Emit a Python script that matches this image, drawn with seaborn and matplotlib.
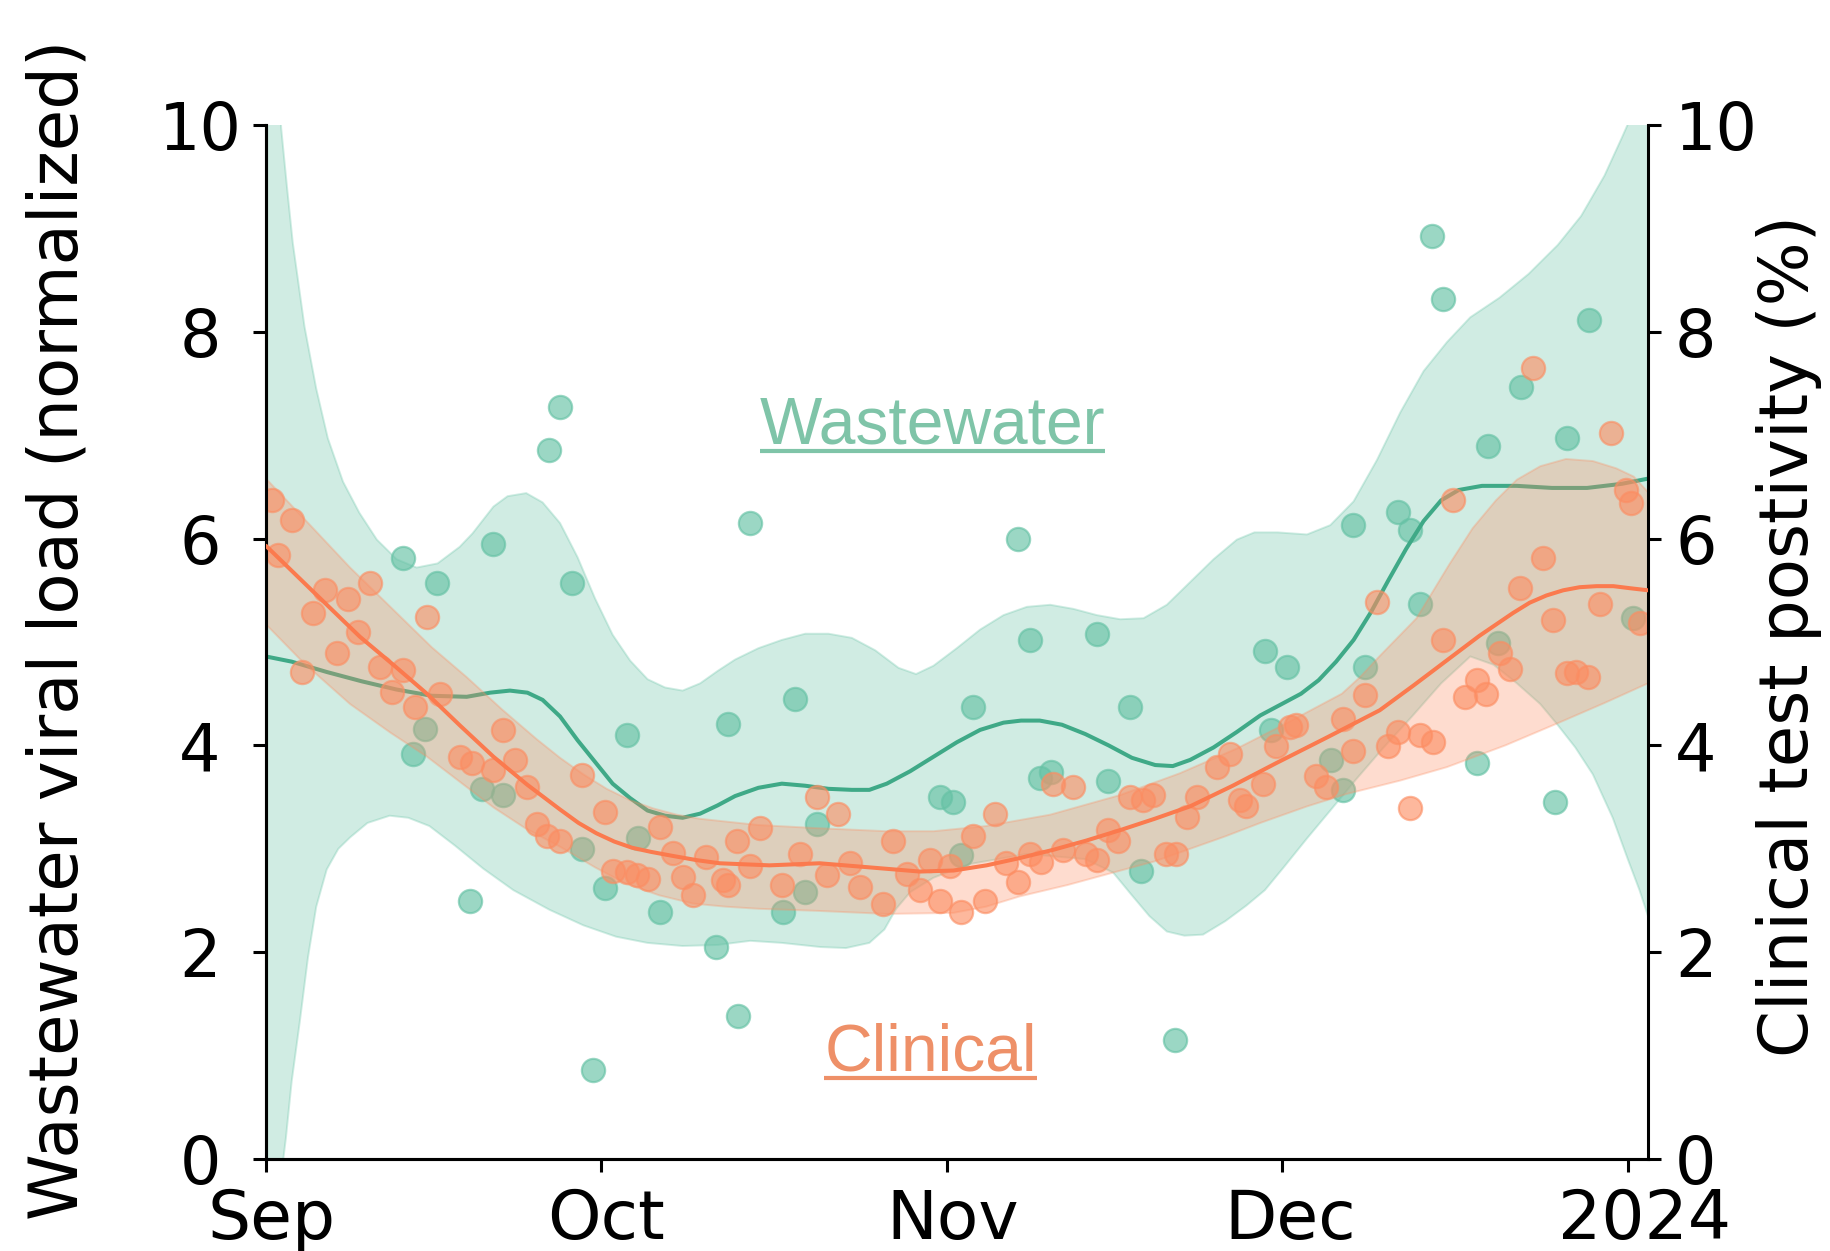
import numpy as np
import pandas as pd
import matplotlib
matplotlib.use("Agg")
import matplotlib.pyplot as plt
import matplotlib.transforms as mtransforms
from matplotlib.lines import Line2D
import seaborn as sns

START = pd.Timestamp("2023-09-01")
X_END_DAY = 123.8

# Wastewater samples: days since 1 Sep 2023 and normalized viral load
ww_day = [12.29, 13.18, 14.24, 15.28, 18.26, 19.31, 20.35, 21.24, 25.34, 26.32,
          27.37, 28.27, 29.31, 30.36, 32.30, 33.35, 35.28, 40.35, 41.40, 42.30,
          43.34, 46.33, 47.38, 48.27, 49.32, 60.36, 61.55, 62.30, 63.35, 67.37,
          68.42, 69.31, 70.36, 74.40, 75.43, 77.38, 78.42, 81.41, 89.47, 90.07,
          91.42, 95.44, 96.49, 97.38, 98.43, 101.41, 102.46, 103.36, 104.45, 105.45,
          108.44, 109.47, 110.37, 112.38, 115.45, 116.50, 118.52, 122.46]
ww_load = [5.81, 3.92, 4.16, 5.57, 2.50, 3.58, 5.95, 3.52, 6.86, 7.27,
           5.57, 3.00, 0.86, 2.62, 4.10, 3.10, 2.39, 2.05, 4.21, 1.38,
           6.15, 2.39, 4.45, 2.58, 3.24, 3.50, 3.45, 2.94, 4.37, 6.00,
           5.02, 3.68, 3.74, 5.08, 3.66, 4.37, 2.79, 1.15, 4.91, 4.15,
           4.76, 3.86, 3.57, 6.13, 4.76, 6.26, 6.08, 5.37, 8.93, 8.32,
           3.83, 6.90, 4.99, 7.47, 3.45, 6.97, 8.11, 5.23]

# Clinical test positivity (%)
cl_day = [0.50, 1.10, 2.29, 3.19, 4.23, 5.28, 6.32, 7.37, 8.26, 9.30,
          10.20, 11.25, 12.29, 13.34, 14.38, 15.58, 17.36, 18.42, 20.35, 21.24,
          22.30, 23.34, 24.24, 25.13, 26.32, 28.27, 30.36, 31.10, 32.30, 33.19,
          34.24, 35.28, 36.48, 37.37, 38.26, 39.46, 40.95, 41.40, 42.15, 43.34,
          44.24, 46.18, 47.83, 49.32, 50.21, 51.26, 52.30, 53.20, 55.28, 56.18,
          57.38, 58.57, 59.46, 60.36, 61.26, 62.30, 63.35, 64.39, 65.28, 66.33,
          67.37, 68.42, 69.46, 70.51, 71.40, 72.30, 73.50, 74.40, 75.43, 76.33,
          77.38, 78.57, 79.47, 80.66, 81.56, 82.46, 83.36, 85.15, 86.34, 87.24,
          87.83, 89.32, 90.52, 91.71, 92.31, 94.10, 94.99, 96.49, 97.38, 98.43,
          99.48, 100.52, 101.41, 102.46, 103.36, 104.55, 105.45, 106.35, 107.39, 108.44,
          109.32, 110.53, 111.41, 112.31, 113.51, 114.41, 115.31, 116.50, 117.39, 118.43,
          119.48, 120.53, 121.87, 122.32, 123.06]
cl_pos = [6.37, 5.84, 6.18, 4.71, 5.28, 5.50, 4.89, 5.42, 5.10, 5.57,
          4.76, 4.52, 4.73, 4.37, 5.24, 4.50, 3.89, 3.83, 3.76, 4.15,
          3.86, 3.60, 3.24, 3.12, 3.08, 3.71, 3.36, 2.79, 2.78, 2.75,
          2.71, 3.21, 2.96, 2.73, 2.55, 2.92, 2.70, 2.65, 3.08, 2.83,
          3.20, 2.65, 2.95, 3.50, 2.75, 3.34, 2.86, 2.63, 2.47, 3.08,
          2.76, 2.60, 2.89, 2.50, 2.83, 2.39, 3.12, 2.50, 3.34, 2.86,
          2.68, 2.95, 2.87, 3.63, 2.99, 3.60, 2.95, 2.89, 3.18, 3.08,
          3.50, 3.47, 3.52, 2.95, 2.95, 3.31, 3.50, 3.79, 3.92, 3.47,
          3.41, 3.63, 3.99, 4.18, 4.20, 3.70, 3.60, 4.26, 3.95, 4.49,
          5.39, 3.99, 4.13, 3.39, 4.10, 4.03, 5.02, 6.37, 4.47, 4.63,
          4.50, 4.89, 4.74, 5.52, 7.65, 5.81, 5.21, 4.70, 4.71, 4.66,
          5.37, 7.02, 6.47, 6.34, 5.18]

# Smoothed wastewater trend
ww_fit_day = [0, 2.30, 5.44, 8.57, 11.71, 14.84, 17.98, 20.07, 21.85, 23.42,
              24.78, 26.34, 27.91, 29.48, 31.05, 32.62, 34.18, 35.75, 37.32, 38.89,
              40.46, 42.02, 44.11, 46.21, 48.30, 50.39, 52.48, 54.05, 55.61, 57.70,
              59.79, 61.88, 63.97, 66.07, 67.64, 69.31, 71.30, 73.39, 75.48, 77.57,
              79.66, 81.23, 82.79, 84.88, 86.97, 89.07, 91.16, 92.72, 94.29, 95.86,
              97.43, 98.99, 100.56, 102.13, 103.70, 105.27, 106.84, 108.93, 112.06, 115.20,
              118.34, 121.47, 123.8]
ww_fit = [4.86, 4.81, 4.71, 4.62, 4.54, 4.48, 4.47, 4.51, 4.53, 4.51,
          4.44, 4.28, 4.05, 3.84, 3.63, 3.49, 3.37, 3.32, 3.30, 3.34,
          3.42, 3.51, 3.59, 3.63, 3.61, 3.58, 3.57, 3.57, 3.63, 3.75,
          3.89, 4.03, 4.15, 4.22, 4.24, 4.24, 4.20, 4.11, 4.00, 3.88,
          3.81, 3.80, 3.86, 3.98, 4.13, 4.29, 4.41, 4.50, 4.63, 4.81,
          5.02, 5.29, 5.60, 5.90, 6.17, 6.37, 6.47, 6.51, 6.51, 6.49,
          6.49, 6.53, 6.58]
# Wastewater uncertainty band: upper and lower edges
ww_hi_day = [0, 1.36, 1.88, 2.40, 3.45, 4.50, 5.54, 6.90, 8.36, 9.93,
             11.71, 13.49, 15.37, 17.35, 18.50, 20.38, 21.64, 23.31, 24.78, 26.34,
             27.91, 29.48, 31.05, 32.62, 34.18, 35.75, 37.32, 38.89, 40.46, 42.02,
             44.11, 46.21, 48.30, 50.39, 52.48, 54.57, 56.66, 58.23, 59.79, 61.88,
             63.97, 66.07, 68.16, 70.25, 72.34, 74.43, 76.52, 78.61, 80.70, 82.79,
             84.88, 86.97, 88.54, 90.63, 93.25, 95.34, 97.43, 99.52, 101.61, 103.70,
             105.79, 107.88, 110.50, 113.11, 115.72, 117.81, 119.90, 121.47, 123.8]
ww_hi = [13.0, 9.97, 9.40, 8.86, 8.05, 7.45, 6.97, 6.55, 6.25, 5.99,
         5.80, 5.72, 5.76, 5.92, 6.05, 6.31, 6.41, 6.44, 6.35, 6.15,
         5.82, 5.42, 5.07, 4.82, 4.64, 4.56, 4.53, 4.60, 4.72, 4.83,
         4.94, 5.02, 5.08, 5.08, 5.04, 4.92, 4.75, 4.69, 4.77, 4.94,
         5.12, 5.26, 5.34, 5.36, 5.32, 5.26, 5.22, 5.23, 5.36, 5.58,
         5.80, 5.99, 6.06, 6.06, 6.04, 6.13, 6.36, 6.76, 7.22, 7.62,
         7.90, 8.14, 8.33, 8.56, 8.84, 9.12, 9.51, 9.88, 10.45]
ww_lo_day = [0, 0.84, 1.55, 1.78, 2.30, 3.03, 3.76, 4.50, 5.44, 6.48,
             7.53, 9.09, 11.08, 12.75, 14.64, 16.94, 19.44, 22.16, 25.40, 28.43,
             31.36, 34.18, 37.32, 40.46, 43.38, 46.21, 49.66, 51.95, 54.05, 55.40,
             56.45, 57.70, 59.79, 62.93, 68.16, 73.39, 75.89, 77.57, 79.13, 80.70,
             82.27, 83.94, 85.93, 87.81, 89.48, 91.16, 93.25, 95.34, 97.64, 100.04,
             102.66, 105.27, 107.88, 109.97, 112.06, 114.15, 115.62, 117.29, 118.86, 120.64,
             121.99, 123.04, 123.8]
ww_lo = [-4.0, -1.0, 0.0, 0.20, 0.75, 1.33, 1.95, 2.44, 2.80, 3.00,
         3.11, 3.25, 3.32, 3.30, 3.22, 3.03, 2.81, 2.60, 2.41, 2.26,
         2.15, 2.09, 2.06, 2.07, 2.11, 2.09, 2.05, 2.04, 2.09, 2.22,
         2.42, 2.58, 2.72, 2.85, 2.95, 2.90, 2.77, 2.55, 2.35, 2.20,
         2.16, 2.17, 2.30, 2.45, 2.60, 2.82, 3.10, 3.37, 3.67, 3.97,
         4.28, 4.60, 4.86, 4.78, 4.60, 4.40, 4.21, 3.98, 3.72, 3.30,
         2.90, 2.60, 2.35]

# Smoothed clinical trend
cl_fit_day = [0, 4.2, 8.42, 11.4, 14.41, 17.4, 20.38, 23.4, 26.34, 28.0,
              29.6, 31.2, 32.8, 34.5, 36.5, 38.6, 40.64, 45.1, 49.6, 54.1,
              58.57, 61.6, 64.55, 67.5, 70.51, 73.5, 76.5, 79.6, 82.77, 86.6,
              90.52, 95.1, 99.77, 102.8, 105.75, 108.7, 111.7, 113.2, 114.7, 116.2,
              117.68, 119.2, 120.7, 122.2, 123.8]
cl_fit = [5.93, 5.49, 5.05, 4.78, 4.50, 4.19, 3.89, 3.62, 3.38, 3.25,
          3.15, 3.07, 3.01, 2.97, 2.93, 2.89, 2.86, 2.84, 2.86, 2.82,
          2.78, 2.79, 2.84, 2.91, 2.99, 3.08, 3.18, 3.29, 3.41, 3.61,
          3.83, 4.08, 4.34, 4.58, 4.82, 5.06, 5.28, 5.38, 5.45, 5.50,
          5.53, 5.54, 5.54, 5.52, 5.50]
# Clinical uncertainty band: upper and lower edges
cl_hi_day = [0, 3.35, 7.53, 11.71, 14.84, 17.98, 21.12, 24.25, 26.34, 28.43,
             30.52, 32.62, 34.71, 36.80, 38.89, 44.11, 49.34, 55.61, 59.79, 64.50,
             70.25, 76.52, 81.85, 86.97, 91.16, 96.38, 98.0, 99.73, 103.07, 106.0,
             108.09, 110.18, 112.06, 114.15, 116.45, 118.86, 120.95, 122.52, 123.8]
cl_hi = [6.58, 6.20, 5.72, 5.28, 4.95, 4.66, 4.35, 4.06, 3.88, 3.72,
         3.58, 3.47, 3.39, 3.33, 3.29, 3.23, 3.20, 3.17, 3.17, 3.22,
         3.33, 3.52, 3.73, 3.97, 4.20, 4.50, 4.66, 4.86, 5.23, 5.75,
         6.10, 6.37, 6.57, 6.70, 6.77, 6.75, 6.68, 6.60, 6.45]
cl_lo_day = [0, 3.35, 7.53, 11.19, 14.43, 17.46, 20.38, 23.21, 26.34, 29.48,
             32.30, 35.23, 38.26, 41.19, 44.11, 49.34, 55.61, 61.57, 64.50, 67.53,
             71.82, 75.89, 79.66, 82.79, 85.93, 89.07, 93.25, 96.80, 101.61, 105.79,
             111.02, 115.62, 119.90, 123.8]
cl_lo = [5.17, 4.80, 4.40, 4.12, 3.89, 3.64, 3.40, 3.20, 3.02, 2.82,
         2.66, 2.55, 2.47, 2.44, 2.42, 2.40, 2.37, 2.38, 2.44, 2.54,
         2.65, 2.77, 2.88, 3.00, 3.12, 3.25, 3.41, 3.53, 3.66, 3.79,
         4.00, 4.21, 4.41, 4.60]

tick_dates = ["2023-09-01", "2023-10-01", "2023-11-01", "2023-12-01", "2024-01-01"]
tick_labels = ["Sep", "Oct", "Nov", "Dec", "2024"]

GREEN = "#66c2a5"
GREEN_LINE = "#3fa987"
ORANGE = "#fc8d62"
ORANGE_LINE = "#fb7a4e"
WW_TEXT = "#7fc4a8"
CL_TEXT = "#ee9068"


def to_dates(days):
    return (START + pd.to_timedelta(np.asarray(days, dtype=float), unit="D")).values


def band(ax, lo_day, lo, hi_day, hi, color):
    xs = np.concatenate([to_dates(hi_day), to_dates(lo_day)[::-1]])
    ys = np.concatenate([np.asarray(hi), np.asarray(lo)[::-1]])
    ax.fill(xs, ys, facecolor=color, edgecolor=color, alpha=0.3, lw=1.4, zorder=1)


sns.set_style("ticks")
plt.rcParams["font.family"] = ["DejaVu Sans"]
plt.rcParams["text.color"] = "black"
plt.rcParams["axes.labelcolor"] = "black"
plt.rcParams["xtick.color"] = "black"
plt.rcParams["ytick.color"] = "black"
plt.rcParams["axes.edgecolor"] = "black"

W, H, DPI = 1830, 1251, 100
fig = plt.figure(figsize=(W / DPI, H / DPI), dpi=DPI)
ax = fig.add_axes([266 / W, (H - 1159) / H, (1648 - 266) / W, (1159 - 125) / H])
ax2 = ax.twinx()

ww_pts = pd.DataFrame({"date": to_dates(ww_day), "load": ww_load})
cl_pts = pd.DataFrame({"date": to_dates(cl_day), "pos": cl_pos})
ww_curve = pd.DataFrame({"date": to_dates(ww_fit_day), "load": ww_fit})
cl_curve = pd.DataFrame({"date": to_dates(cl_fit_day), "pos": cl_fit})

# Wastewater on the left axis
band(ax, ww_lo_day, ww_lo, ww_hi_day, ww_hi, GREEN)
sns.scatterplot(data=ww_pts, x="date", y="load", ax=ax, color=GREEN, s=280,
                alpha=0.65, edgecolor=GREEN, linewidth=1.6, zorder=2)
sns.lineplot(data=ww_curve, x="date", y="load", ax=ax, color=GREEN_LINE,
             lw=2.9, zorder=3)

# Clinical positivity on the right axis
band(ax2, cl_lo_day, cl_lo, cl_hi_day, cl_hi, ORANGE)
sns.scatterplot(data=cl_pts, x="date", y="pos", ax=ax2, color=ORANGE, s=280,
                alpha=0.62, edgecolor=ORANGE, linewidth=1.6, zorder=2)
sns.lineplot(data=cl_curve, x="date", y="pos", ax=ax2, color=ORANGE_LINE,
             lw=2.9, zorder=3)

x0 = START
x1 = START + pd.Timedelta(days=X_END_DAY)
for a in (ax, ax2):
    a.set_xlim(x0, x1)
    a.set_ylim(0, 10)
    a.set_yticks([0, 2, 4, 6, 8, 10])
    a.spines["top"].set_visible(False)
    for s in a.spines.values():
        s.set_linewidth(2.2)
        s.set_color("black")
    a.tick_params(axis="both", labelsize=47, length=9.5, width=2.2, colors="black")

ax.spines["right"].set_visible(False)
ax.set_xticks(pd.to_datetime(tick_dates))
ax.set_xticklabels(tick_labels)
ax.tick_params(axis="x", pad=11, labelsize=49)
ax.set_xlabel("")

# Month labels sit slightly right of their ticks; the year label a bit more
label_shift = [0.06, 0.05, 0.06, 0.08, 0.17]
for lab, dx in zip(ax.get_xticklabels(), label_shift):
    lab.set_transform(lab.get_transform()
                      + mtransforms.ScaledTranslation(dx, 0, fig.dpi_scale_trans))

# Left tick labels are centred in their column
ax.tick_params(axis="y", pad=38)
for lab in ax.get_yticklabels():
    lab.set_horizontalalignment("center")
ax2.tick_params(axis="y", pad=10)

ax.set_ylabel("Wastewater viral load (normalized)", fontsize=48.5)
ax2.set_ylabel("Clinical test postivity (%)", fontsize=48.5)
ax.yaxis.set_label_coords(-0.126, 0.512)
ax2.yaxis.set_label_coords(1.0785, 0.506)

# Series names written inside the plot, underlined
t_ww = ax2.text(0.4823, 0.692, "Wastewater", transform=ax2.transAxes,
                ha="center", va="baseline", fontsize=47.5, color=WW_TEXT,
                family=["Liberation Sans", "DejaVu Sans"], zorder=5)
t_cl = ax2.text(0.481, 0.086, "Clinical", transform=ax2.transAxes,
                ha="center", va="baseline", fontsize=47.5, color=CL_TEXT,
                family=["Liberation Sans", "DejaVu Sans"], zorder=5)

fig.canvas.draw()
for t in (t_ww, t_cl):
    bb = t.get_window_extent()
    base_y = ax2.transAxes.transform(t.get_position())[1]
    y = base_y - 8
    fig.add_artist(Line2D([bb.x0 / W, bb.x1 / W], [y / H, y / H],
                          transform=fig.transFigure, color=t.get_color(),
                          lw=3.0, solid_capstyle="butt"))

fig.savefig("out.png", dpi=DPI)
